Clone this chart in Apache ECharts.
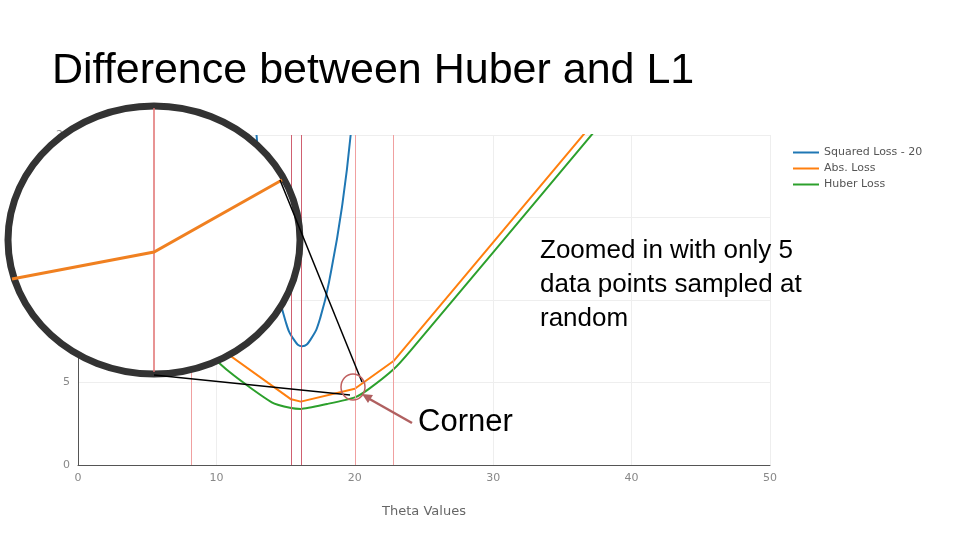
<!DOCTYPE html><html><head><meta charset="utf-8">
<script src="https://cdn.jsdelivr.net/npm/echarts@6/dist/echarts.min.js"></script>
<style>html,body{margin:0;background:#fff}#c{width:960px;height:540px}</style></head><body><div id="c"></div>
<script>
const samples = [8.2, 15.4, 16.1, 20, 22.8];
const sqLoss = [[12.9,20],[13.5,14.8],[14.2,11.4],[15,8.7],[15.6,7.6],[16.2,7.2],[16.8,7.6],[17.5,8.9],[18.3,11.8],[19.1,15.8],[19.7,20]];
const absLoss = [[0,16.5],[8.2,8.3],[15.4,3.98],[16.1,3.84],[20,4.62],[22.8,6.3],[37,20.5]];
const huberLoss = [[0,16.0],[8.2,7.8],[11,5.6],[14,3.8],[15.4,3.45],[16.1,3.4],[18,3.7],[20,4.1],[21,4.6],[22.8,5.8],[24,6.9],[37.5,20.4]];
const chart = echarts.init(document.getElementById('c'));
const ax = {color:'#888', fontSize:11, fontFamily:'DejaVu Sans'};
chart.setOption({
  animation:false,
  grid:{left:78,right:190,top:135,bottom:75},
  legend:{orient:'vertical',left:788,top:142,itemWidth:26,itemHeight:2,itemGap:5,icon:'rect',
    textStyle:{fontSize:11,color:'#555',fontFamily:'DejaVu Sans'},
    data:['Squared Loss - 20','Abs. Loss','Huber Loss']},
  xAxis:{type:'value',min:0,max:50,interval:10,name:'Theta Values',nameLocation:'middle',nameGap:40,
    nameTextStyle:{color:'#666',fontSize:13,fontFamily:'DejaVu Sans'},
    axisLine:{lineStyle:{color:'#555'}},axisTick:{show:false},axisLabel:ax,
    splitLine:{lineStyle:{color:'#eee'}}},
  yAxis:{type:'value',min:0,max:20,interval:5,axisLine:{show:true,lineStyle:{color:'#555'}},axisTick:{show:false},
    axisLabel:ax,splitLine:{lineStyle:{color:'#eee'}}},
  series:[
    {name:'Squared Loss - 20',type:'line',data:sqLoss,smooth:true,showSymbol:false,color:'#1f77b4',lineStyle:{width:2},clip:true},
    {name:'Abs. Loss',type:'line',data:absLoss,showSymbol:false,color:'#ff7f0e',lineStyle:{width:2},clip:true,
      markLine:{silent:true,symbol:'none',label:{show:false},
        data:samples.map((s,i)=>({xAxis:s,lineStyle:{color:(i===1||i===2)?'#d06070':'#f0a0a0',width:1,type:'solid'}}))}},
    {name:'Huber Loss',type:'line',data:huberLoss,smooth:0.2,showSymbol:false,color:'#2ca02c',lineStyle:{width:2},clip:true}
  ],
  graphic:[
    {type:'text',left:52,top:50,z:100,style:{text:'Difference between Huber and L1',fontSize:43,fill:'#000',fontFamily:'Liberation Sans'}},
    {type:'ellipse',shape:{cx:154,cy:240,rx:146,ry:134},z:100,style:{fill:'#fff',stroke:'#333',lineWidth:7}},
    {type:'line',shape:{x1:154,y1:108,x2:154,y2:372},z:101,style:{stroke:'#e07070',lineWidth:1.5}},
    {type:'polyline',shape:{points:[[12,279],[154,252],[282,180]]},z:101,style:{stroke:'#f08020',lineWidth:3,fill:null}},
    {type:'line',shape:{x1:280,y1:180,x2:362,y2:382},z:102,style:{stroke:'#000',lineWidth:1.5}},
    {type:'line',shape:{x1:154,y1:375,x2:350,y2:395},z:102,style:{stroke:'#000',lineWidth:1.5}},
    {type:'ellipse',shape:{cx:353,cy:387,rx:12,ry:13},z:102,style:{fill:null,stroke:'#c06060',lineWidth:1.5}},
    {type:'line',shape:{x1:412,y1:423,x2:366,y2:397},z:102,style:{stroke:'#b06060',lineWidth:2.5}},
    {type:'polygon',shape:{points:[[362,394],[373,395],[368,403]]},z:102,style:{fill:'#b06060'}},
    {type:'text',left:418,top:407,z:102,style:{text:'Corner',fontSize:31,fill:'#000',fontFamily:'Liberation Sans'}},
    {type:'text',left:540,top:234,z:102,style:{text:'Zoomed in with only 5\ndata points sampled at\nrandom',fontSize:26,lineHeight:34,fill:'#000',fontFamily:'Liberation Sans'}}
  ]
});
</script></body></html>
